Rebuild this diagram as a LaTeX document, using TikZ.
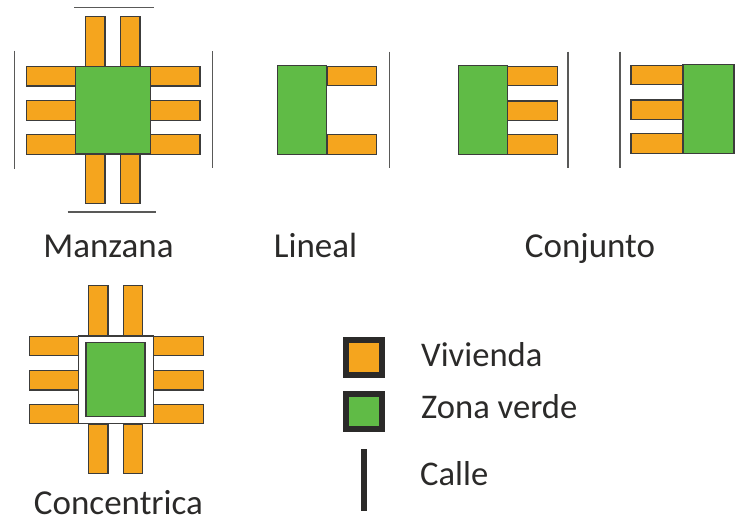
\documentclass[tikz,border=0pt]{standalone}
\usepackage{fontspec}
\setmainfont{Carlito}
\usepackage{tikz}
\definecolor{naranja}{HTML}{F5A51E}
\definecolor{verde}{HTML}{60BB46}
\definecolor{borde}{HTML}{3C3C3B}
\definecolor{texto}{HTML}{2B2A29}
\tikzset{
	casah/.style={rectangle, draw=borde, fill=naranja, line width=1.3pt, inner sep=0pt, outer sep=0pt, minimum width=49.5pt, minimum height=19.6pt},
	casav/.style={casah, minimum width=19.6pt, minimum height=49.5pt},
	zona/.style={rectangle, draw=borde, fill=verde, line width=1.3pt, inner sep=0pt, outer sep=0pt},
	calle/.style={draw=borde!85, line width=1.3pt},
	etiqueta/.style={text=texto, font=\fontsize{35}{38}\selectfont, inner sep=0pt, anchor=base},
	leyenda/.style={text=texto, font=\fontsize{34.6}{38}\selectfont, inner sep=0pt, anchor=base west},
	muestra/.style={rectangle, draw=texto, line width=6pt, inner sep=0pt, outer sep=0pt, minimum width=36pt, minimum height=35pt}
}
\begin{document}
\begin{tikzpicture}[x=1pt,y=-1pt]
		\useasboundingbox (0,0) rectangle (735,520);
		% manzana
		\node[casav]	(m_1) at (95.2,41.5) {};
		\node[casav]	(m_2) at (130.2,41.5) {};
		\node[casav]	(m_3) at (95.2,179) {};
		\node[casav]	(m_4) at (130.2,179) {};
		\node[casah]	(m_5) at (51,76.3) {};
		\node[casah]	(m_6) at (51,110.5) {};
		\node[casah]	(m_7) at (51,144.4) {};
		\node[casah]	(m_8) at (175.3,76.3) {};
		\node[casah]	(m_9) at (175.3,110.5) {};
		\node[casah]	(m_10) at (175.3,144.4) {};
		\node[zona, minimum width=75pt, minimum height=87.5pt] (m_0) at (113.2,110.3) {};
		\draw[calle] (74,7.7) -- (154,7.7);
		\draw[calle] (67.5,212) -- (156,212);
		\draw[calle] (14.7,50.5) -- (14.7,168.5);
		\draw[calle] (212.3,51) -- (212.3,168);
		\node[etiqueta] (t_m) at (108.5,257) {Manzana};
		% lineal
		\node[casah]	(l_1) at (351.6,76) {};
		\node[casah]	(l_2) at (351.6,144.5) {};
		\node[zona, minimum width=49pt, minimum height=88.5pt] (l_0) at (302.1,110) {};
		\draw[calle] (389.7,51.5) -- (389.7,168);
		\node[etiqueta] (t_l) at (315.5,257.5) {Lineal};
		% conjunto
		\node[casah]	(c_1) at (532.4,76) {};
		\node[casah]	(c_2) at (532.4,110.7) {};
		\node[casah]	(c_3) at (532.4,144.6) {};
		\node[zona, minimum width=49pt, minimum height=88.8pt] (c_0) at (483.2,110.1) {};
		\draw[calle] (568,51.5) -- (568,168);
		\draw[calle] (620,51.5) -- (620,168);
		\node[casah, minimum width=52pt]	(d_1) at (657,75) {};
		\node[casah, minimum width=52pt]	(d_2) at (657,109.7) {};
		\node[casah, minimum width=52pt]	(d_3) at (657,143.6) {};
		\node[zona, minimum width=51pt, minimum height=89pt] (d_0) at (708.5,109) {};
		\node[etiqueta] (t_c) at (590,257.5) {Conjunto};
		% concentrica
		\node[casav]	(k_1) at (98.2,310.5) {};
		\node[casav]	(k_2) at (133,310.5) {};
		\node[casav]	(k_3) at (98.2,449) {};
		\node[casav]	(k_4) at (133,449) {};
		\node[casah]	(k_5) at (54,346) {};
		\node[casah]	(k_6) at (54,380.3) {};
		\node[casah]	(k_7) at (54,414) {};
		\node[casah]	(k_8) at (178.4,346) {};
		\node[casah]	(k_9) at (178.4,380.3) {};
		\node[casah]	(k_10) at (178.4,414) {};
		\node[zona, fill=white, minimum width=75pt, minimum height=87.7pt] (k_0) at (116.2,379.8) {};
		\node[zona, minimum width=59pt, minimum height=73.6pt] (k_11) at (115.5,379.5) {};
		\node[etiqueta] (t_k) at (118.5,514) {Concentrica};
		% leyenda
		\node[muestra, fill=naranja] (v_0) at (364.3,357.5) {};
		\node[muestra, fill=verde] (z_0) at (364.3,411.6) {};
		\draw[draw=texto, line width=6pt] (363.7,449.3) -- (363.7,511);
		\node[leyenda] (t_v) at (421,366.5) {Vivienda};
		\node[leyenda] (t_z) at (421,418.5) {Zona verde};
		\node[leyenda] (t_a) at (420,485) {Calle};
	\end{tikzpicture}
\end{document}
